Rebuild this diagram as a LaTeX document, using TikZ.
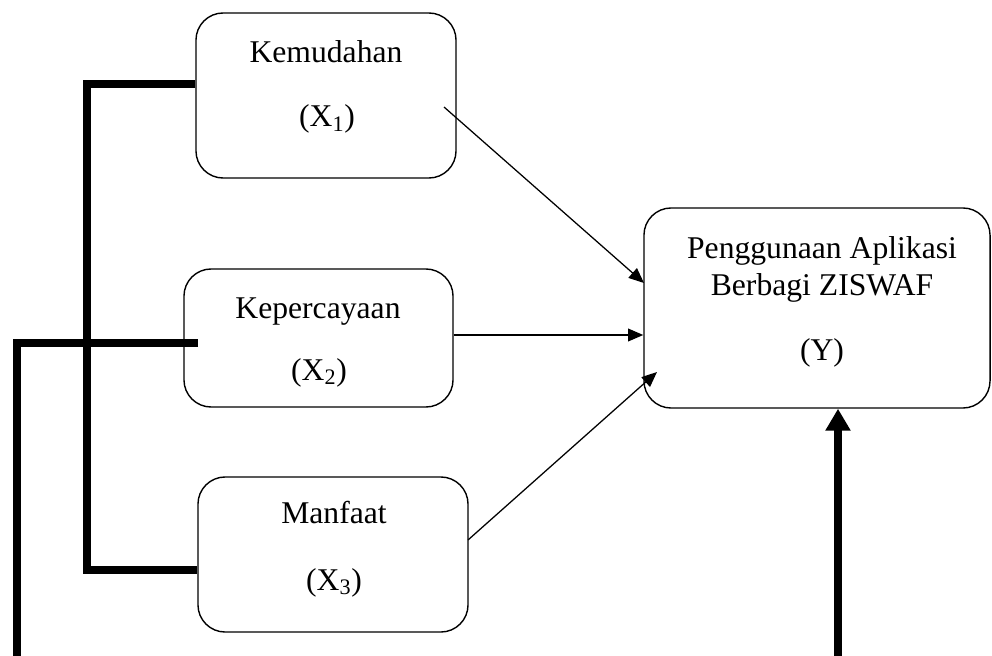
\documentclass[tikz,border=0pt]{standalone}
\usepackage{fontspec}
\setmainfont{Liberation Serif}
\usetikzlibrary{arrows.meta,positioning}

\begin{document}
\begin{tikzpicture}[
    x=0.025cm,
    y=-0.025cm,
    font=\fontsize{22.5}{27}\selectfont,
    box/.style={
        rectangle, draw,
        rounded corners=0.68cm,
        line width=1pt
    },
    lbl/.style={
        inner sep=0pt,
        anchor=base
    },
    arr/.style={
        -{Triangle[length=3.8mm,width=3.2mm]},
        line width=0.9pt
    },
    bar/.style={
        line width=5.8pt
    },
    bigarr/.style={
        -{Triangle[length=5.5mm,width=6mm]},
        line width=6.2pt
    }
]

\useasboundingbox (0,0) rectangle (992,656);


\node[box, minimum width=6.5cm,   minimum height=4.125cm] (x1) at (326,95.5) {};
\node[box, minimum width=6.725cm, minimum height=3.45cm]  (x2) at (318.5,338) {};
\node[box, minimum width=6.75cm,  minimum height=3.875cm] (x3) at (333,554.5) {};
\node[box, minimum width=8.65cm,  minimum height=5cm]     (y)  at (817,308) {};


\node[lbl] (x1t) at (326,63) {Kemudahan};
\node[lbl] (x1s) at (327,127) {(X\textsubscript{1})};

\node[lbl] (x2t) at (318,318) {Kepercayaan};
\node[lbl] (x2s) at (319,380) {(X\textsubscript{2})};

\node[lbl] (x3t) at (334,523) {Manfaat};
\node[lbl] (x3s) at (334,590) {(X\textsubscript{3})};

\node[lbl] (yt1) at (822,258) {Penggunaan Aplikasi};
\node[lbl] (yt2) at (822,295) {Berbagi ZISWAF};
\node[lbl] (ys)  at (822,360) {(Y)};


\coordinate (a1s) at (444,107);
\coordinate (a1e) at (644,283);
\coordinate (a3s) at (468,540);
\coordinate (a3e) at (657,372);

\draw[arr] (a1s) -- (a1e);
\draw[arr] (x2.east |- 0,335) -- (y.west |- 0,335);
\draw[arr] (a3s) -- (a3e);


\coordinate (b1) at (87,84);
\coordinate (b2) at (87,570);
\draw[bar] (x1.west |- b1) -- (b1) -- (b2) -- (x3.west |- b2);

\coordinate (c1) at (17,343);
\coordinate (c2) at (17,660);
\draw[bar] (198,343) -- (c1) -- (c2);

\coordinate (d0) at (838,660);
\draw[bigarr] (d0) -- (d0 |- y.south);

\end{tikzpicture}
\end{document}
